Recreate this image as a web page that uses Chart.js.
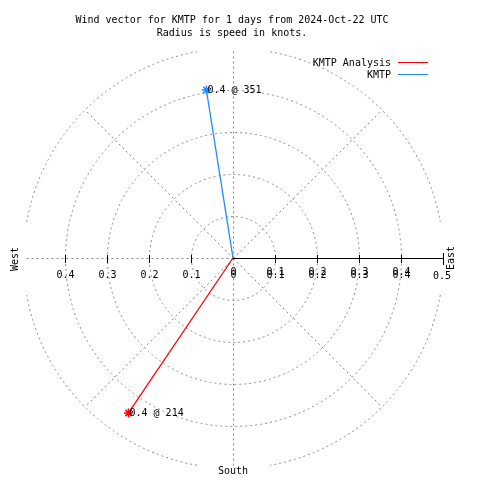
<!DOCTYPE html>
<html>
<head>
<meta charset="utf-8">
<script src="https://cdn.jsdelivr.net/npm/chart.js@4/dist/chart.umd.min.js"></script>
<style>
html,body{margin:0;padding:0;background:#fff;}
#wrap{width:480px;height:480px;position:relative;}
</style>
</head>
<body>
<div id="wrap"><canvas id="c" width="480" height="480"></canvas></div>
<script>
// ---- data ----
const seriesNames = ['KMTP Analysis', 'KMTP'];
const seriesColors = ['#ff0000', '#1e88ff'];
const speeds = [0.445, 0.405];          // knots
const directions = [214, 351];          // degrees
const pointLabels = ['0.4 @ 214', '0.4 @ 351'];
const ringValues = [0.1, 0.2, 0.3, 0.4, 0.5];
const tickLabels = ['0', '0.1', '0.2', '0.3', '0.4', '0.5'];
const titleLines = ['Wind vector for KMTP for 1 days from 2024-Oct-22 UTC', 'Radius is speed in knots.'];
const compassLabels = ['West', 'East', 'South'];
const rMax = 0.5;

const FONT = '10px "DejaVu Sans Mono", "Liberation Mono", monospace';
const GRID = '#8a8a8a';

function toXY(s, d) {
  const a = d * Math.PI / 180;
  return { x: s * Math.sin(a), y: s * Math.cos(a) };
}

const datasets = seriesNames.map((name, i) => ({
  label: name,
  data: [{ x: 0, y: 0 }, toXY(speeds[i], directions[i])],
  showLine: true,
  borderColor: seriesColors[i],
  backgroundColor: seriesColors[i],
  borderWidth: 1.3,
  pointStyle: 'star',
  pointRadius: [0, 4.5],
  pointBorderWidth: 1.5,
  pointBorderColor: seriesColors[i],
  pointHoverRadius: 0
}));

const polarGrid = {
  id: 'polarGrid',
  beforeDatasetsDraw(chart) {
    const ctx = chart.ctx;
    const xs = chart.scales.x, ys = chart.scales.y;
    const cx = xs.getPixelForValue(0), cy = ys.getPixelForValue(0);
    const pr = v => xs.getPixelForValue(v) - cx;
    const rad = b => (b - 90) * Math.PI / 180;
    ctx.save();
    ctx.strokeStyle = GRID;
    ctx.lineWidth = 1;
    ctx.setLineDash([2, 3]);
    // rings
    ringValues.forEach(v => {
      ctx.beginPath();
      if (v < rMax) {
        ctx.arc(cx + 0.5, cy + 0.5, pr(v), 0, Math.PI * 2);
        ctx.stroke();
      } else {
        [[10, 80], [100, 170], [190, 260], [280, 350]].forEach(([a, b]) => {
          ctx.beginPath();
          ctx.arc(cx + 0.5, cy + 0.5, pr(v), rad(a), rad(b));
          ctx.stroke();
        });
      }
    });
    // spokes
    const R = pr(rMax);
    [0, 45, 135, 180, 225, 270, 315].forEach(b => {
      ctx.beginPath();
      ctx.moveTo(cx + 0.5, cy + 0.5);
      ctx.lineTo(cx + 0.5 + R * Math.sin(b * Math.PI / 180), cy + 0.5 - R * Math.cos(b * Math.PI / 180));
      ctx.stroke();
    });
    ctx.setLineDash([]);
    // radial axis (east)
    ctx.strokeStyle = '#000';
    ctx.beginPath();
    ctx.moveTo(cx, cy + 0.5);
    ctx.lineTo(cx + R, cy + 0.5);
    ctx.stroke();
    // ticks
    ringValues.forEach(v => {
      [1, -1].forEach(sgn => {
        const px = Math.round(xs.getPixelForValue(sgn * v)) + 0.5;
        ctx.beginPath();
        if (v === rMax && sgn > 0) {
          ctx.moveTo(px, cy - 5); ctx.lineTo(px, cy + 7);
        } else if (v < rMax) {
          ctx.moveTo(px, cy - 3); ctx.lineTo(px, cy + 5);
        }
        ctx.stroke();
      });
    });
    ctx.restore();
  },
  afterDraw(chart) {
    const ctx = chart.ctx;
    const xs = chart.scales.x, ys = chart.scales.y;
    const cx = xs.getPixelForValue(0), cy = ys.getPixelForValue(0);
    ctx.save();
    ctx.font = FONT;
    ctx.fillStyle = '#000';
    ctx.textBaseline = 'middle';
    // title
    ctx.textAlign = 'center';
    ctx.fillText(titleLines[0], 232, 20);
    ctx.fillText(titleLines[1], 232, 33);
    // tick labels
    tickLabels.forEach((t, i) => {
      const v = parseFloat(t);
      const px = xs.getPixelForValue(v);
      if (v < rMax) {
        ctx.fillText(t, px + 0.5, cy + 17);
        ctx.fillText(t, px + 0.5, cy + 14);
      } else {
        ctx.fillText(t, px - 1, cy + 18);
      }
      if (v > 0 && v < rMax) {
        ctx.fillText(t, xs.getPixelForValue(-v) + 0.5, cy + 17);
      }
    });
    // compass labels
    ctx.save();
    ctx.translate(15, cy + 1);
    ctx.rotate(-Math.PI / 2);
    ctx.fillText(compassLabels[0], 0, 0);
    ctx.restore();
    ctx.save();
    ctx.translate(451, cy);
    ctx.rotate(-Math.PI / 2);
    ctx.fillText(compassLabels[1], 0, 0);
    ctx.restore();
    ctx.fillText(compassLabels[2], cx, ys.getPixelForValue(-rMax) + 3);
    // point labels
    ctx.textAlign = 'left';
    datasets.forEach((ds, i) => {
      const p = ds.data[1];
      ctx.fillText(pointLabels[i], xs.getPixelForValue(p.x) + 1, ys.getPixelForValue(p.y) + 0.5);
    });
    // legend
    seriesNames.forEach((n, i) => {
      const y = 63 + i * 12;
      ctx.textAlign = 'right';
      ctx.fillStyle = '#000';
      ctx.fillText(n, 391, y);
      ctx.strokeStyle = seriesColors[i];
      ctx.lineWidth = 1;
      ctx.beginPath();
      ctx.moveTo(398, Math.round(y) - 0.5);
      ctx.lineTo(428, Math.round(y) - 0.5);
      ctx.stroke();
    });
    ctx.restore();
  }
};

new Chart(document.getElementById('c'), {
  type: 'scatter',
  data: { datasets },
  options: {
    responsive: false,
    animation: false,
    devicePixelRatio: 1,
    layout: { padding: { left: 23, right: 37, top: 48, bottom: 12 } },
    plugins: { legend: { display: false }, tooltip: { enabled: false }, title: { display: false } },
    scales: {
      x: { type: 'linear', min: -rMax, max: rMax, display: false },
      y: { type: 'linear', min: -rMax, max: rMax, display: false }
    },
    elements: { line: { tension: 0 } }
  },
  plugins: [polarGrid]
});
</script>
</body>
</html>
